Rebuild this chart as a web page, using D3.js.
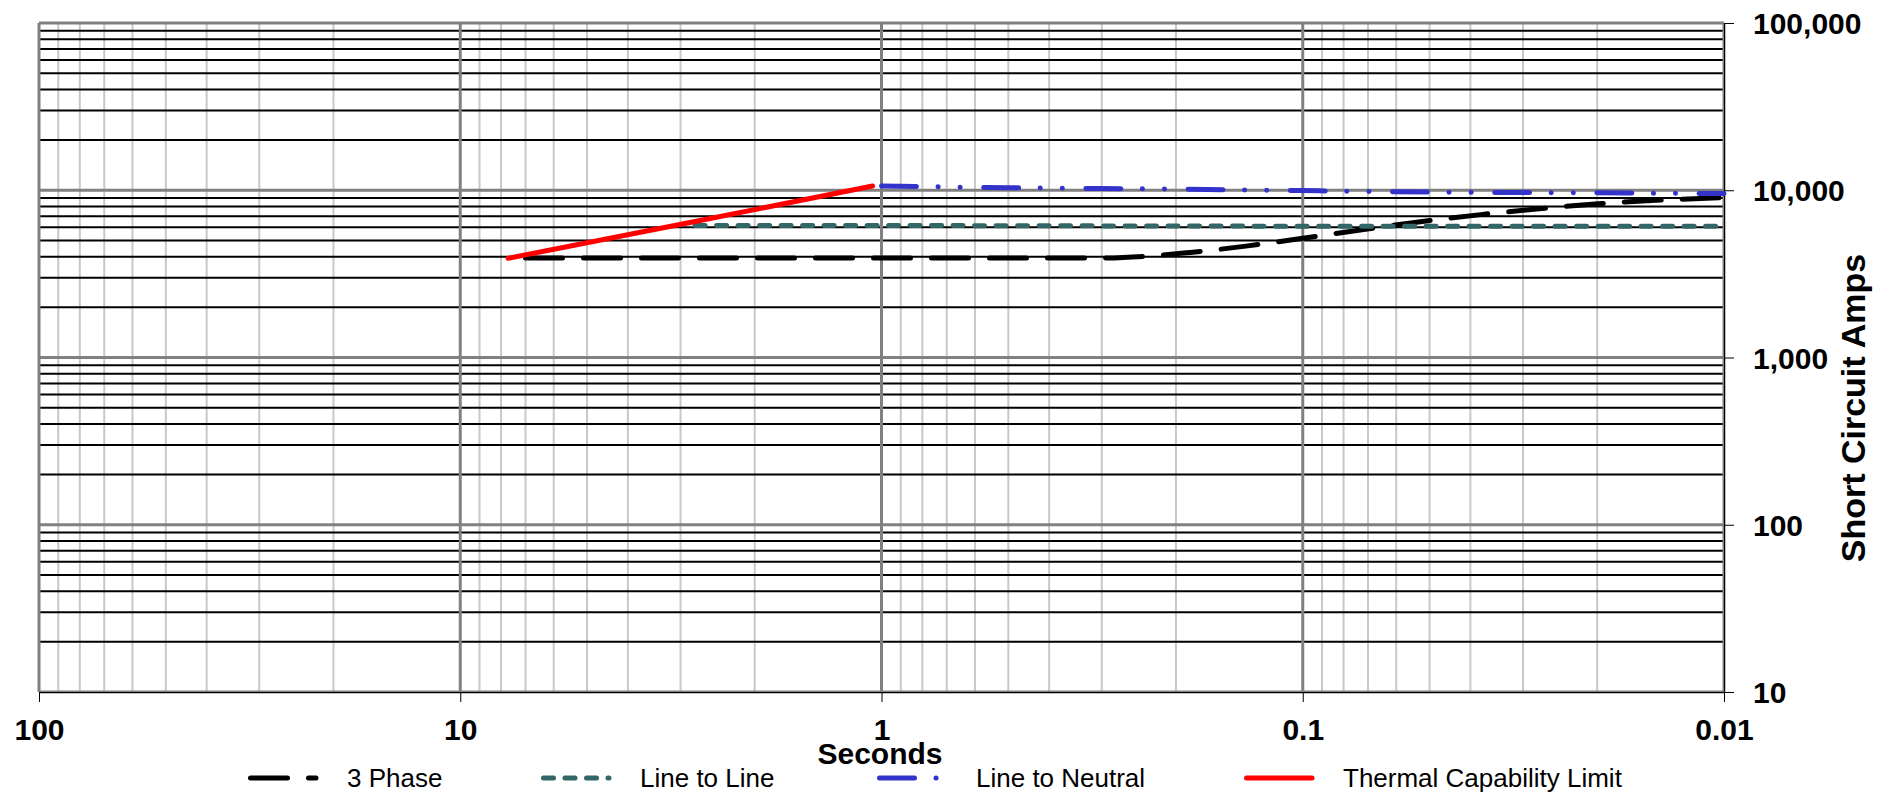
<!DOCTYPE html>
<html>
<head>
<meta charset="utf-8">
<script src="https://cdn.jsdelivr.net/npm/d3@7"></script>
<style>
  html, body { margin: 0; padding: 0; background: #fff; }
  svg text { font-family: "Liberation Sans", Arial, sans-serif; fill: #000; }
</style>
</head>
<body>
<svg id="chart" width="1885" height="795"></svg>
<script>
// ---------- data ----------
const timeTicks = [100, 10, 1, 0.1, 0.01];
const timeTickLabels = ["100", "10", "1", "0.1", "0.01"];
const ampTicks = [10, 100, 1000, 10000, 100000];
const ampTickLabels = ["10", "100", "1,000", "10,000", "100,000"];

const seriesNames = ["3 Phase", "Line to Line", "Line to Neutral", "Thermal Capability Limit"];

const threePhaseTime = [7.0, 0.30, 0.185, 0.135, 0.098, 0.071, 0.052, 0.0378, 0.0275, 0.0199, 0.0145, 0.01];
const threePhaseAmps = [3930, 3930, 4250, 4650, 5200, 5850, 6500, 7150, 7750, 8300, 8700, 9050];

const lineToLineTime = [2.77, 1, 0.1, 0.01];
const lineToLineAmps = [6150, 6150, 6100, 6100];

const lineToNeutralTime = [1.0, 0.5, 0.2, 0.1, 0.05, 0.02, 0.01];
const lineToNeutralAmps = [10600, 10350, 10150, 9950, 9750, 9650, 9550];

const thermalTime = [7.7, 2.77, 1.05];
const thermalAmps = [3920, 6500, 10600];

// ---------- layout ----------
const svg = d3.select("#chart");
const L = 39, R = 1724, T = 23, B = 692;

const x = d3.scaleLog().domain([100, 0.01]).range([L, R]);
const y = d3.scaleLog().domain([10, 100000]).range([B, T]);

svg.append("rect").attr("width", 1885).attr("height", 795).attr("fill", "#fff");

function minors(lo, hi) {
  const out = [];
  for (let d = lo; d < hi; d *= 10) for (let k = 2; k <= 9; k++) out.push(d * k);
  return out;
}
const timeMinor = minors(0.01, 100);
const ampMinor = minors(10, 100000);

const grid = svg.append("g");
grid.selectAll(".vmin").data(timeMinor).join("line")
  .attr("x1", d => x(d)).attr("x2", d => x(d)).attr("y1", T).attr("y2", B)
  .attr("stroke", "#c8c8c8").attr("stroke-width", 2);
grid.selectAll(".hmin").data(ampMinor).join("line")
  .attr("x1", L).attr("x2", R).attr("y1", d => y(d)).attr("y2", d => y(d))
  .attr("stroke", "#000").attr("stroke-width", 2);
grid.selectAll(".hmaj").data(ampTicks).join("line")
  .attr("x1", L).attr("x2", R).attr("y1", d => y(d)).attr("y2", d => y(d))
  .attr("stroke", "#808080").attr("stroke-width", 3);
grid.selectAll(".vmaj").data(timeTicks).join("line")
  .attr("x1", d => x(d)).attr("x2", d => x(d)).attr("y1", T).attr("y2", B)
  .attr("stroke", "#808080").attr("stroke-width", 3);

// axes
const xAxis = d3.axisBottom(x).tickValues(timeTicks).tickSize(10).tickFormat((d, i) => timeTickLabels[i]);
const gx = svg.append("g").attr("transform", `translate(0,${B})`).call(xAxis);
gx.select(".domain").attr("stroke", "#000").attr("stroke-width", 1);
gx.selectAll(".tick line").attr("stroke", "#000");
gx.selectAll(".tick text").attr("font-size", 30).attr("font-weight", "bold")
  .attr("y", 0).attr("dy", 0).attr("transform", "translate(0,48)")
  .style("font-family", '"Liberation Sans", Arial, sans-serif');

const yAxis = d3.axisRight(y).tickValues(ampTicks).tickSize(10).tickFormat((d, i) => ampTickLabels[i]);
const gy = svg.append("g").attr("transform", `translate(${R},0)`).call(yAxis);
gy.select(".domain").attr("stroke", "#000").attr("stroke-width", 1);
gy.selectAll(".tick line").attr("stroke", "#000");
gy.selectAll(".tick text").attr("font-size", 30).attr("font-weight", "bold")
  .attr("x", 29).attr("dy", "0.35em")
  .style("font-family", '"Liberation Sans", Arial, sans-serif');

// axis titles
svg.append("text").attr("x", 880).attr("y", 764).attr("text-anchor", "middle")
  .attr("font-size", 30).attr("font-weight", "bold").text("Seconds");
svg.append("text").attr("transform", "translate(1865,408) rotate(-90)")
  .attr("text-anchor", "middle").attr("font-size", 34).attr("font-weight", "bold")
  .text("Short Circuit Amps");

// ---------- series ----------
const styles = [
  { color: "#000000", width: 5, dash: "37,21", cap: "round" },
  { color: "#336666", width: 5, dash: "10,11.5", cap: "round" },
  { color: "#3333CC", width: 5, dash: "35,21.5,0.1,22,0.1,23.5", cap: "round" },
  { color: "#FF0000", width: 5, dash: null, cap: "round" }
];
const seriesData = [
  threePhaseTime.map((t, i) => [t, threePhaseAmps[i]]),
  lineToLineTime.map((t, i) => [t, lineToLineAmps[i]]),
  lineToNeutralTime.map((t, i) => [t, lineToNeutralAmps[i]]),
  thermalTime.map((t, i) => [t, thermalAmps[i]])
];

const line = d3.line().x(d => x(d[0])).y(d => y(d[1])).curve(d3.curveMonotoneX);
const straight = d3.line().x(d => x(d[0])).y(d => y(d[1]));

seriesData.forEach((data, i) => {
  const s = styles[i];
  svg.append("path").datum(data)
    .attr("d", i === 3 ? straight : line)
    .attr("fill", "none").attr("stroke", s.color).attr("stroke-width", s.width)
    .attr("stroke-linecap", s.cap).attr("stroke-linejoin", "round")
    .attr("stroke-dasharray", s.dash);
});

// ---------- legend ----------
const legendX = [248, 541, 877, 1244];
const legY = 778;
const leg = svg.append("g");
seriesNames.forEach((name, i) => {
  const s = styles[i];
  leg.append("line").attr("x1", legendX[i] + 2.5).attr("x2", legendX[i] + 68)
    .attr("y1", legY).attr("y2", legY)
    .attr("stroke", s.color).attr("stroke-width", s.width)
    .attr("stroke-linecap", s.cap).attr("stroke-dasharray", s.dash);
  leg.append("text").attr("x", legendX[i] + 99).attr("y", 787)
    .attr("font-size", 26).text(name);
});
</script>
</body>
</html>
